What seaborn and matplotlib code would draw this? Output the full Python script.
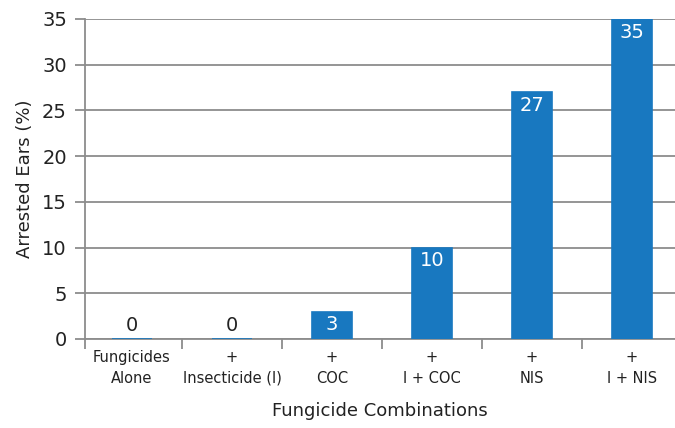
import pandas as pd
import seaborn as sns
import matplotlib.pyplot as plt

# 数据
categories = ['Fungicides\nAlone', '+\nInsecticide (I)', '+\nCOC', '+\nI + COC', '+\nNIS', '+\nI + NIS']
arrested = [0, 0, 3, 10, 27, 35]
bar_color = '#1878c0'


def draw_chart():
    df = pd.DataFrame({'combo': categories, 'pct': arrested})

    sns.set_style('white')
    plt.rcParams['font.family'] = ['DejaVu Sans']

    fig = plt.figure(figsize=(6.75, 4.28), dpi=100)
    ax = fig.add_axes([85 / 675, 89 / 428, 590 / 675, 320 / 428])

    sns.barplot(data=df, x='combo', y='pct', color=bar_color, width=0.4,
                edgecolor=bar_color, linewidth=1.2, saturation=1, ax=ax, zorder=3)

    ax.set_ylim(0, 35)
    ax.set_xlim(-0.47, 5.43)
    ax.set_yticks(range(0, 36, 5))
    ax.yaxis.grid(True, color='#8c8c8c', linewidth=1.3, zorder=0)
    ax.set_axisbelow(True)

    for s in ['top', 'right']:
        ax.spines[s].set_visible(False)
    ax.spines['left'].set_color('#8c8c8c')
    ax.spines['bottom'].set_color('#8c8c8c')
    ax.spines['left'].set_linewidth(1.3)
    ax.spines['bottom'].set_linewidth(1.3)

    ax.tick_params(axis='y', left=True, length=7, width=1.3, color='#8c8c8c', direction='out',
                   labelsize=14, pad=6, labelcolor='#222222')
    # 类别之间的刻度（最左边一根贴着纵轴）
    ax.set_xticks([-0.47] + [i + 0.5 for i in range(0, 5)], minor=True)
    ax.tick_params(axis='x', which='minor', bottom=True, length=7, width=1.3, color='#8c8c8c', direction='out')
    ax.tick_params(axis='x', which='major', length=0, labelsize=10.5, pad=8, labelcolor='#222222')
    for lab in ax.get_xticklabels():
        lab.set_linespacing(1.45)

    # 柱子上的数值
    for i, v in enumerate(arrested):
        if v < 2:
            ax.text(i, v + 0.4, str(v), ha='center', va='bottom', fontsize=14, color='#222222')
        else:
            ax.text(i, v - 0.4, str(v), ha='center', va='top', fontsize=14, color='white')

    ax.set_xlabel('Fungicide Combinations', fontsize=13, labelpad=12, color='#222222')
    ax.set_ylabel('Arrested Ears (%)', fontsize=13, labelpad=6, color='#222222')

    plt.savefig('out.png', dpi=100)


if __name__ == '__main__':
    draw_chart()
